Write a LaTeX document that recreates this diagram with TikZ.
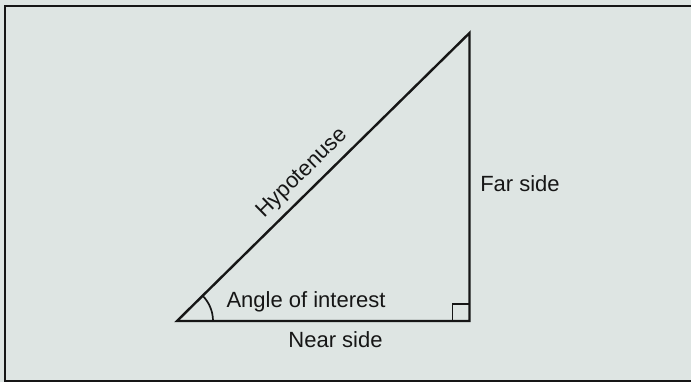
\documentclass[tikz,border=0pt]{standalone}
\usepackage{fontspec}
\setmainfont{Liberation Sans}
\definecolor{paper}{RGB}{222,229,227}
\definecolor{ink}{RGB}{22,22,22}
\begin{document}
\begin{tikzpicture}[x=1pt,y=1pt,
  edge/.style={draw=ink, line width=2.4pt},
  thin edge/.style={draw=ink, line width=1.7pt},
  lab/.style={font=\fontsize{22}{26}\selectfont, text=ink, inner sep=0pt}]
\fill[paper] (0,0) rectangle (691,382);
\useasboundingbox (0,0) rectangle (691,382);
\begin{scope}
\clip (0,0) rectangle (691,382);
\draw[edge] (5,1) rectangle (700,376);
\end{scope}
\coordinate (A) at (177,61);
\coordinate (B) at (469.5,61);
\coordinate (C) at (469.5,349);
\draw[edge, line join=miter] (A) -- (B) -- (C) -- cycle;
\draw[thin edge] (A) ++(36,0) arc[start angle=0, end angle=44.6, radius=36];
\draw[thin edge] (B) ++(-17,0) -- ++(0,17) -- ++(17,0);
\path (A) -- (C) node[lab, pos=0.47, sloped, above=7pt] (hyp) {Hypotenuse};
\node[lab, anchor=base] (far) at (520,190.3) {Far side};
\node[lab, anchor=base] (ang) at (306,74) {Angle of interest};
\node[lab, anchor=base] (near) at (335.5,34.7) {Near side};
\end{tikzpicture}
\end{document}
